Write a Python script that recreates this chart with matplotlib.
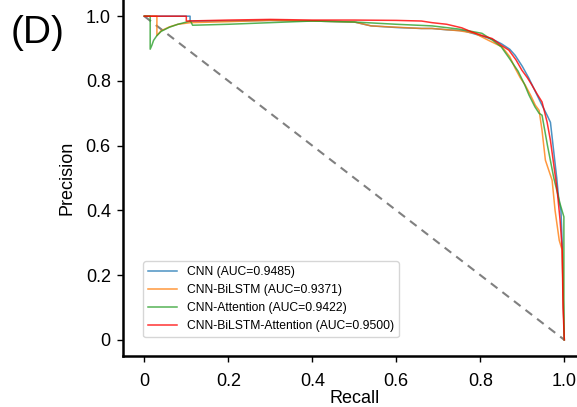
import matplotlib
matplotlib.use("Agg")
import matplotlib.pyplot as plt

plt.rcParams["font.family"] = ["Liberation Sans", "DejaVu Sans"]

# Precision-recall curves
CNN_RECALL = [0.0, 0.109, 0.109, 0.2, 0.3, 0.4, 0.5, 0.54, 0.6, 0.66, 0.685, 0.72,
              0.76, 0.8, 0.83, 0.85, 0.87, 0.883, 0.9, 0.915, 0.93, 0.945, 0.959,
              0.967, 0.975, 0.982, 0.987, 0.992, 0.995, 0.997, 1.0]
CNN_PREC = [1.0, 1.0, 0.985, 0.985, 0.987, 0.985, 0.982, 0.97, 0.965, 0.962, 0.962,
            0.958, 0.955, 0.94, 0.928, 0.915, 0.898, 0.879, 0.845, 0.81, 0.77, 0.73,
            0.694, 0.672, 0.58, 0.5, 0.431, 0.4, 0.3, 0.15, 0.0]

BILSTM_RECALL = [0.0, 0.03, 0.03, 0.04, 0.06, 0.08, 0.11, 0.2, 0.3, 0.4, 0.5, 0.54,
                 0.6, 0.66, 0.685, 0.75, 0.787, 0.82, 0.852, 0.87, 0.883, 0.895,
                 0.907, 0.92, 0.931, 0.94, 0.947, 0.955, 0.971, 0.978, 0.988,
                 0.995, 0.997, 1.0]
BILSTM_PREC = [1.0, 1.0, 0.94, 0.955, 0.967, 0.975, 0.98, 0.983, 0.987, 0.985,
               0.982, 0.97, 0.966, 0.962, 0.962, 0.955, 0.947, 0.925, 0.905, 0.875,
               0.839, 0.81, 0.787, 0.755, 0.725, 0.709, 0.647, 0.555, 0.493, 0.40,
               0.307, 0.277, 0.15, 0.0]

ATTN_RECALL = [0.0, 0.014, 0.014, 0.018, 0.022, 0.03, 0.04, 0.06, 0.08, 0.11, 0.115,
               0.2, 0.3, 0.4, 0.5, 0.6, 0.685, 0.75, 0.804, 0.83, 0.85, 0.869, 0.89,
               0.905, 0.916, 0.93, 0.94, 0.947, 0.96, 0.975, 0.99, 0.999, 0.999, 1.0]
ATTN_PREC = [1.0, 1.0, 0.898, 0.91, 0.925, 0.94, 0.953, 0.966, 0.975, 0.985, 0.972,
             0.975, 0.98, 0.985, 0.982, 0.975, 0.970, 0.96, 0.947, 0.925, 0.905,
             0.87, 0.83, 0.79, 0.756, 0.72, 0.70, 0.694, 0.6, 0.5, 0.42, 0.38,
             0.05, 0.0]

FULL_RECALL = [0.0, 0.1, 0.1, 0.2, 0.3, 0.4, 0.5, 0.6, 0.66, 0.685, 0.72, 0.756,
               0.78, 0.805, 0.828, 0.85, 0.868, 0.885, 0.899, 0.912, 0.923, 0.935,
               0.947, 0.959, 0.967, 0.975, 0.983, 0.99, 0.995, 0.997, 1.0]
FULL_PREC = [1.0, 1.0, 0.985, 0.988, 0.99, 0.988, 0.988, 0.987, 0.985, 0.98, 0.975,
             0.964, 0.951, 0.94, 0.931, 0.91, 0.895, 0.865, 0.833, 0.81, 0.787, 0.76,
             0.735, 0.673, 0.616, 0.54, 0.462, 0.369, 0.277, 0.1, 0.0]

LABELS = ["CNN (AUC=0.9485)", "CNN-BiLSTM (AUC=0.9371)",
          "CNN-Attention (AUC=0.9422)", "CNN-BiLSTM-Attention (AUC=0.9500)"]
COLORS = ["#1f77b4", "#ff7f0e", "#2ca02c", "#ff0000"]
TICKS = [0, 0.2, 0.4, 0.6, 0.8, 1.0]
TICK_LABELS = ["0", "0.2", "0.4", "0.6", "0.8", "1.0"]

fig = plt.figure(figsize=(5.77, 4.07), dpi=100)
ax = fig.add_axes([123.3 / 577, (407 - 356) / 407, 462 / 577, 356 / 407])

ax.plot([0, 1], [1, 0], linestyle=(0, (4, 3)), color="gray", lw=1.5)
curves = [(CNN_RECALL, CNN_PREC), (BILSTM_RECALL, BILSTM_PREC),
          (ATTN_RECALL, ATTN_PREC), (FULL_RECALL, FULL_PREC)]
for (rec, prec), color, label in zip(curves, COLORS, LABELS):
    ax.plot(rec, prec, color=color, lw=1.1, alpha=0.8, label=label)

ax.set_xlim(-0.05, 1.05)
ax.set_ylim(-0.05, 1.05)
ax.set_xticks(TICKS, TICK_LABELS)
ax.set_yticks(TICKS, TICK_LABELS)
ax.tick_params(labelsize=13, length=4, width=1, colors="black")
ax.tick_params(axis="x", pad=8)
ax.tick_params(axis="y", pad=5)
ax.set_xlabel("Recall", fontsize=13, labelpad=0)
ax.set_ylabel("Precision", fontsize=13, labelpad=7)
for side in ("left", "bottom"):
    ax.spines[side].set_linewidth(1.8)
for side in ("top", "right"):
    ax.spines[side].set_visible(False)

ax.legend(loc="lower left", bbox_to_anchor=(0.043, 0.053), borderaxespad=0,
          fontsize=8.7, handlelength=2.4, frameon=True)

fig.text(11 / 577, 1 - 33 / 407, "(D)", fontsize=28, va="center", ha="left")

fig.savefig("out.png", dpi=100)
